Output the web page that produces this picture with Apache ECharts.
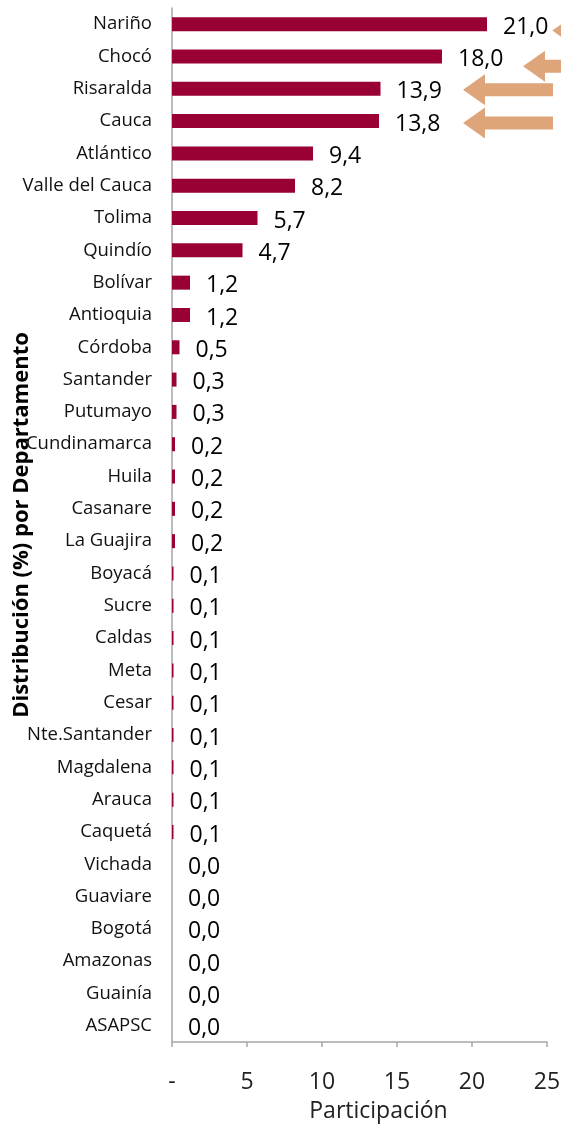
<!DOCTYPE html>
<html>
<head>
<meta charset="utf-8">
<script src="https://cdn.jsdelivr.net/npm/echarts@6/dist/echarts.min.js"></script>
<style>
  html, body { margin: 0; padding: 0; background: #fff; }
  #distribucionBar { width: 561px; height: 1125px; }
</style>
</head>
<body>
<div id="distribucionBar"></div>
<script>
  // departamentos, de arriba hacia abajo
  var departamentos = ['Nariño', 'Chocó', 'Risaralda', 'Cauca', 'Atlántico', 'Valle del Cauca', 'Tolima', 'Quindío',
    'Bolívar', 'Antioquia', 'Córdoba', 'Santander', 'Putumayo', 'Cundinamarca', 'Huila', 'Casanare', 'La Guajira',
    'Boyacá', 'Sucre', 'Caldas', 'Meta', 'Cesar', 'Nte.Santander', 'Magdalena', 'Arauca', 'Caquetá',
    'Vichada', 'Guaviare', 'Bogotá', 'Amazonas', 'Guainía', 'ASAPSC']
  // participación (%)
  var participacion = [21.0, 18.0, 13.9, 13.8, 9.4, 8.2, 5.7, 4.7,
    1.2, 1.2, 0.5, 0.3, 0.3, 0.2, 0.2, 0.2, 0.2,
    0.1, 0.1, 0.1, 0.1, 0.1, 0.1, 0.1, 0.1, 0.1,
    0.0, 0.0, 0.0, 0.0, 0.0, 0.0]
  // flechas: departamento, punta, cola (en unidades del eje), desplazamiento vertical (fracción de banda)
  var flechaDepto = ['Nariño', 'Chocó', 'Risaralda', 'Cauca']
  var flechaPunta = [25.35, 23.4, 19.4, 19.4]
  var flechaCola = [27.0, 27.0, 25.4, 25.4]
  var flechaDy = [0.2, 0.3, 0.03, 0.06]
  var xTicks = ['-', '5', '10', '15', '20', '25']

  var fuente = 'Open Sans'
  var flechas = flechaDepto.map(function (d, i) {
    return [departamentos.indexOf(d), flechaPunta[i], flechaCola[i], flechaDy[i]]
  })

  var myChart = echarts.init(document.getElementById('distribucionBar'))
  myChart.setOption({
    animation: false,
    textStyle: { fontFamily: fuente },
    grid: { left: 172, right: 14, top: 8, bottom: 83, containLabel: false, outerBoundsMode: 'none' },
    xAxis: {
      type: 'value',
      min: 0,
      max: 25,
      interval: 5,
      name: 'Participación',
      nameLocation: 'middle',
      nameGap: 58,
      nameMoveOverlap: false,
      nameTextStyle: { fontSize: 23, color: '#222', fontFamily: fuente, padding: [0, 0, 0, 38] },
      axisLine: { show: true, lineStyle: { color: '#a6a6a6', width: 1.5 } },
      axisTick: { show: true, length: 5, lineStyle: { color: '#a6a6a6', width: 1.5 } },
      axisLabel: {
        fontSize: 23,
        color: '#222',
        margin: 29,
        formatter: function (v) { return xTicks[Math.round(v / 5)] }
      },
      splitLine: { show: false }
    },
    yAxis: {
      type: 'category',
      inverse: true,
      data: departamentos,
      name: 'Distribución (%) por Departamento',
      nameLocation: 'middle',
      nameRotate: 90,
      nameGap: 139,
      nameMoveOverlap: false,
      nameTextStyle: { fontSize: 22, fontWeight: 'bold', color: '#000', fontFamily: fuente },
      axisLine: { show: true, lineStyle: { color: '#a6a6a6', width: 1.5 } },
      axisTick: { show: false },
      axisLabel: { fontSize: 18.5, color: '#111', margin: 20 }
    },
    series: [
      {
        type: 'bar',
        data: participacion,
        barWidth: 14,
        itemStyle: { color: '#990033' },
        label: {
          show: true,
          position: 'right',
          distance: 16,
          offset: [0, 3],
          fontSize: 23,
          color: '#000',
          formatter: function (p) { return p.value.toFixed(1).replace('.', ',') }
        }
      },
      {
        type: 'custom',
        clip: false,
        silent: true,
        encode: { x: [1, 2], y: 0 },
        data: flechas,
        renderItem: function (params, api) {
          var banda = api.size([0, 1])[1]
          var punta = api.coord([api.value(1), api.value(0)])
          var cola = api.coord([api.value(2), api.value(0)])
          var y = punta[1] + api.value(3) * banda
          var x0 = punta[0], x1 = cola[0]
          var largoCabeza = 22, altoCabeza = 31, altoCuerpo = 13
          return {
            type: 'polygon',
            shape: {
              points: [
                [x0, y],
                [x0 + largoCabeza, y - altoCabeza / 2],
                [x0 + largoCabeza, y - altoCuerpo / 2],
                [x1, y - altoCuerpo / 2],
                [x1, y + altoCuerpo / 2],
                [x0 + largoCabeza, y + altoCuerpo / 2],
                [x0 + largoCabeza, y + altoCabeza / 2]
              ]
            },
            style: { fill: '#dfa57a' }
          }
        }
      }
    ]
  })
</script>
</body>
</html>
